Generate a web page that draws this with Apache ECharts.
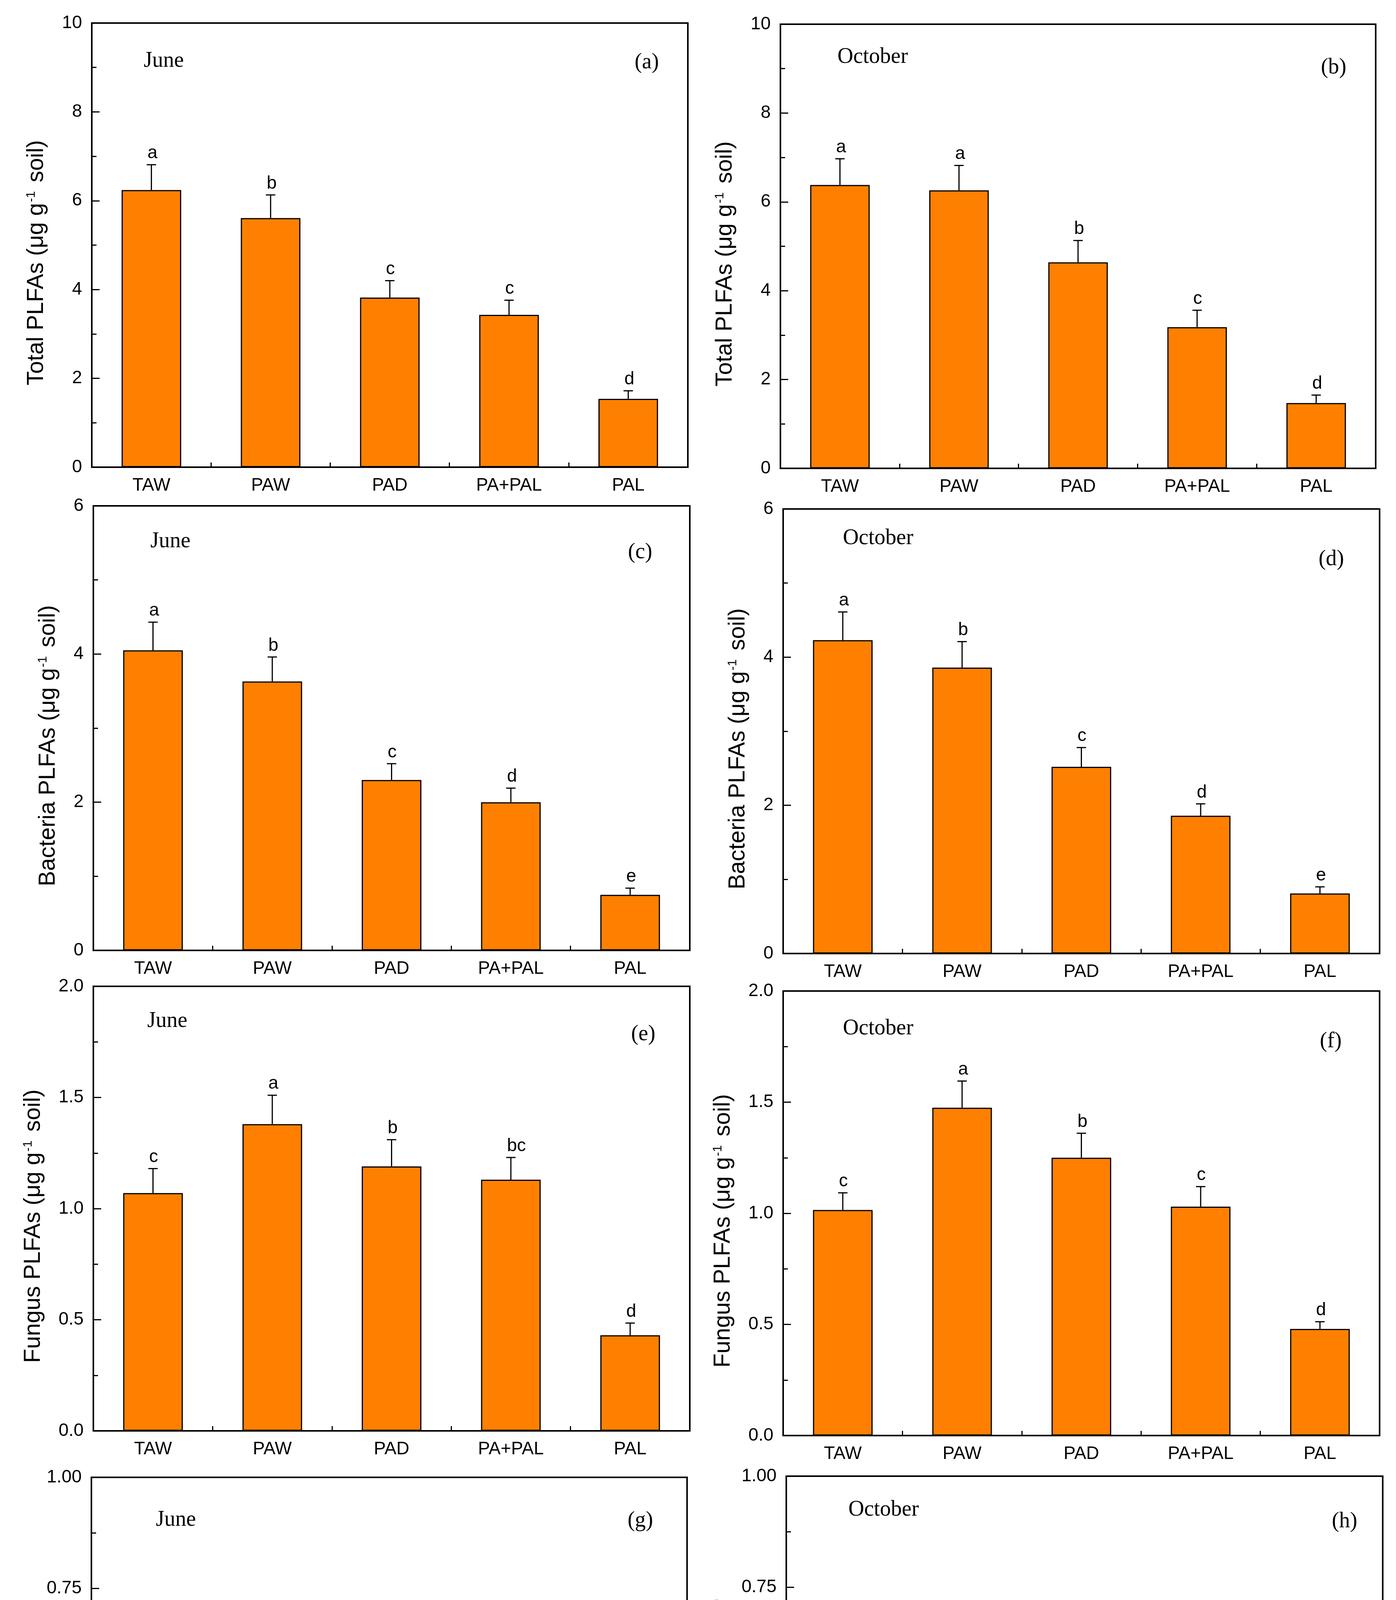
<!DOCTYPE html>
<html>
<head>
<meta charset="utf-8">
<script src="https://cdn.jsdelivr.net/npm/echarts@6/dist/echarts.min.js"></script>
<style>
html,body{margin:0;padding:0;background:#fff;}
#chart{width:3574px;height:5122px;}
</style>
</head>
<body>
<div id="chart"></div>
<script>
// ---------------- data ----------------
const categories = ['TAW', 'PAW', 'PAD', 'PA+PAL', 'PAL'];

const totalJune    = [6.24, 5.61, 3.82, 3.43, 1.54];
const totalJuneErr = [0.57, 0.52, 0.38, 0.33, 0.18];
const totalJuneSig = ['a', 'b', 'c', 'c', 'd'];

const totalOct    = [6.38, 6.26, 4.64, 3.18, 1.47];
const totalOctErr = [0.59, 0.56, 0.49, 0.38, 0.18];
const totalOctSig = ['a', 'a', 'b', 'c', 'd'];

const bactJune    = [4.05, 3.63, 2.30, 2.00, 0.75];
const bactJuneErr = [0.38, 0.33, 0.22, 0.19, 0.09];
const bactJuneSig = ['a', 'b', 'c', 'd', 'e'];

const bactOct    = [4.23, 3.86, 2.52, 1.86, 0.81];
const bactOctErr = [0.38, 0.35, 0.26, 0.16, 0.09];
const bactOctSig = ['a', 'b', 'c', 'd', 'e'];

const fungJune    = [1.07, 1.38, 1.19, 1.13, 0.43];
const fungJuneErr = [0.11, 0.13, 0.12, 0.10, 0.055];
const fungJuneSig = ['c', 'a', 'b', 'bc', 'd'];

const fungOct    = [1.015, 1.475, 1.25, 1.03, 0.48];
const fungOctErr = [0.077, 0.12, 0.11, 0.09, 0.032];
const fungOctSig = ['c', 'a', 'b', 'c', 'd'];

const ratioJune    = [0.265, 0.379, 0.52, 0.567, 0.574];
const ratioJuneErr = [0.024, 0.034, 0.047, 0.05, 0.052];
const ratioJuneSig = ['d', 'c', 'b', 'a', 'a'];

const ratioOct    = [0.24, 0.382, 0.498, 0.557, 0.593];
const ratioOctErr = [0.024, 0.031, 0.042, 0.049, 0.05];
const ratioOctSig = ['d', 'c', 'b', 'ab', 'a'];

const ticksTotal = ['0', '2', '4', '6', '8', '10'];
const ticksBact  = ['0', '2', '4', '6'];
const ticksFung  = ['0.0', '0.5', '1.0', '1.5', '2.0'];
const ticksRatio = ['0.00', '0.25', '0.50', '0.75', '1.00'];

const nameTotal = 'Total PLFAs (μg g{sup|-1} soil)';
const nameBact  = 'Bacteria PLFAs (μg g{sup|-1} soil)';
const nameFung  = 'Fungus PLFAs (μg g{sup|-1} soil)';
const nameRatio = 'Fungus: Bacteria Ratio';
const xTitle = 'Sucessional Stages';

// ---------------- layout ----------------
const SANS = '"Liberation Sans", Arial, sans-serif';
const SERIF = '"Liberation Serif", "Times New Roman", serif';

const panels = [
  {grid:[235, 59, 1526, 1137],  vals:totalJune, err:totalJuneErr, sig:totalJuneSig, ticks:ticksTotal, name:nameTotal, gap:112, month:'June',    mPos:[368, 156],   tag:'(a)', tPos:[1687, 160]},
  {grid:[1998, 62, 1524, 1137], vals:totalOct,  err:totalOctErr,  sig:totalOctSig,  ticks:ticksTotal, name:nameTotal, gap:112, month:'October', mPos:[2144, 146],  tag:'(b)', tPos:[3447, 173]},
  {grid:[239, 1295, 1527, 1138], vals:bactJune, err:bactJuneErr, sig:bactJuneSig, ticks:ticksBact, name:nameBact, gap:86, month:'June',    mPos:[385, 1386],  tag:'(c)', tPos:[1670, 1414]},
  {grid:[2005, 1303, 1527, 1138], vals:bactOct, err:bactOctErr,  sig:bactOctSig,  ticks:ticksBact, name:nameBact, gap:86, month:'October', mPos:[2158, 1378], tag:'(d)', tPos:[3441, 1432]},
  {grid:[239, 2525, 1527, 1138], vals:fungJune, err:fungJuneErr, sig:fungJuneSig, ticks:ticksFung, name:nameFung, gap:124, month:'June',    mPos:[377, 2614],  tag:'(e)', tPos:[1678, 2648]},
  {grid:[2005, 2537, 1527, 1138], vals:fungOct, err:fungOctErr,  sig:fungOctSig,  ticks:ticksFung, name:nameFung, gap:124, month:'October', mPos:[2158, 2633], tag:'(f)', tPos:[3435, 2666]},
  {grid:[234, 3782, 1525, 1137], vals:ratioJune, err:ratioJuneErr, sig:ratioJuneSig, ticks:ticksRatio, name:nameRatio, gap:150, month:'June',    mPos:[399, 3891],  tag:'(g)', tPos:[1672, 3893], bottom:true},
  {grid:[2013, 3779, 1527, 1138], vals:ratioOct, err:ratioOctErr,  sig:ratioOctSig,  ticks:ticksRatio, name:nameRatio, gap:150, month:'October', mPos:[2172, 3865], tag:'(h)', tPos:[3475, 3895], bottom:true}
];

const grids = [], xAxes = [], yAxes = [], series = [], graphics = [];

panels.forEach((p, i) => {
  grids.push({left:p.grid[0], top:p.grid[1], width:p.grid[2], height:p.grid[3],
    show:true, borderColor:'#000', borderWidth:4, backgroundColor:'transparent'});

  const mainX = {
    gridIndex:i, type:'category', data:categories, position:'bottom',
    axisLine:{show:true, lineStyle:{color:'#000', width:4}},
    axisTick:{show:true, inside:true, alignWithLabel:true, length:22, lineStyle:{color:'#000', width:3}},
    axisLabel:{fontSize:46, color:'#000', margin:24, fontFamily:SANS},
    splitLine:{show:false}
  };
  if (p.bottom) {
    mainX.name = xTitle;
    mainX.nameLocation = 'middle';
    mainX.nameGap = 107;
    mainX.nameTextStyle = {fontSize:56, color:'#000', fontFamily:SANS};
  }
  xAxes.push(mainX);
  xAxes.push({
    gridIndex:i, type:'category', data:categories, position:'bottom',
    axisLine:{show:false},
    axisTick:{show:true, inside:true, length:12, lineStyle:{color:'#000', width:3}},
    axisLabel:{show:false}, splitLine:{show:false}
  });

  const tk = p.ticks;
  const tmin = Number(tk[0]), tmax = Number(tk[tk.length - 1]);
  const tint = Number(tk[1]) - Number(tk[0]);
  yAxes.push({
    gridIndex:i, type:'value', min:tmin, max:tmax, interval:tint,
    axisLine:{show:true, lineStyle:{color:'#000', width:4}},
    axisTick:{show:true, inside:true, length:20, lineStyle:{color:'#000', width:3}},
    minorTick:{show:true, splitNumber:2, length:12, lineStyle:{color:'#000', width:3}},
    splitLine:{show:false}, minorSplitLine:{show:false},
    axisLabel:{fontSize:46, color:'#000', margin:25, fontFamily:SANS,
      formatter:function(v){
        for (const s of tk) { if (Math.abs(Number(s) - v) < 1e-9) return s; }
        return '';
      }},
    name:p.name, nameLocation:'middle', nameGap:p.gap, nameRotate:90,
    nameTextStyle:{fontSize:59, color:'#000', fontFamily:SANS, padding:[0, 90, 0, 0],
      rich:{sup:{fontSize:32, color:'#000', fontFamily:SANS, verticalAlign:'top', padding:[0, 6, 24, 2]}}}
  });

  series.push({
    type:'bar', xAxisIndex:2 * i, yAxisIndex:i, data:p.vals, barWidth:'50%', silent:true,
    itemStyle:{color:'#FF8000', borderColor:'#000', borderWidth:3}
  });

  const sig = p.sig;
  series.push({
    type:'custom', xAxisIndex:2 * i, yAxisIndex:i, silent:true, z:5,
    data:p.vals.map((v, k) => [k, v, p.err[k]]),
    encode:{x:0, y:1},
    renderItem:function(params, api){
      const c = api.value(0), v = api.value(1), e = api.value(2);
      const p0 = api.coord([c, v]);
      const p1 = api.coord([c, v + e]);
      return {type:'group', children:[
        {type:'line', shape:{x1:p0[0], y1:p0[1], x2:p1[0], y2:p1[1]}, style:{stroke:'#000', lineWidth:3}},
        {type:'line', shape:{x1:p1[0] - 12, y1:p1[1], x2:p1[0] + 12, y2:p1[1]}, style:{stroke:'#000', lineWidth:3}},
        {type:'text', x:p1[0] - 10, y:p1[1] - 6,
          style:{text:sig[params.dataIndex], font:'46px ' + SANS, fill:'#000',
            textAlign:'left', align:'left', textVerticalAlign:'bottom', verticalAlign:'bottom'}}
      ]};
    }
  });

  graphics.push({type:'text', x:p.mPos[0], y:p.mPos[1], silent:true,
    style:{text:p.month, font:'56px ' + SERIF, fill:'#000',
      textAlign:'left', align:'left', textVerticalAlign:'middle', verticalAlign:'middle'}});
  graphics.push({type:'text', x:p.tPos[0], y:p.tPos[1], silent:true,
    style:{text:p.tag, font:'56px ' + SERIF, fill:'#000',
      textAlign:'right', align:'right', textVerticalAlign:'middle', verticalAlign:'middle'}});
});

const chart = echarts.init(document.getElementById('chart'), null, {renderer:'canvas'});
chart.setOption({
  backgroundColor:'#fff',
  animation:false,
  grid:grids, xAxis:xAxes, yAxis:yAxes, series:series,
  graphic:graphics
});
</script>
</body>
</html>
